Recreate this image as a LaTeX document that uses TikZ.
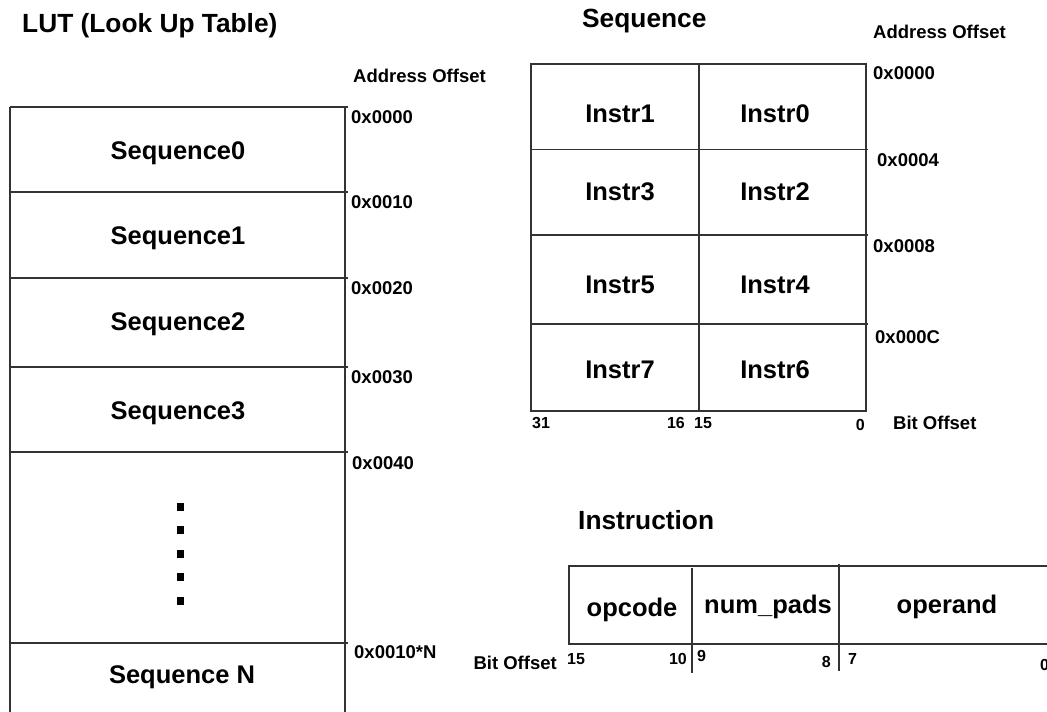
\documentclass[tikz,border=0pt]{standalone}
\usepackage{fontspec}
\setmainfont{Liberation Sans}
\usetikzlibrary{positioning}
\definecolor{edge}{HTML}{333333}
\tikzset{
  grid/.style ={draw=edge, line width=1.3pt},
  cell/.style ={font=\fontsize{25.5}{28}\selectfont\bfseries, inner sep=0pt},
  ttl/.style  ={font=\fontsize{26.3}{30}\selectfont\bfseries, inner sep=0pt, anchor=west},
  addr/.style ={font=\fontsize{18.5}{21}\selectfont\bfseries, inner sep=0pt, anchor=west},
  bit/.style  ={font=\fontsize{16}{18}\selectfont\bfseries, inner sep=0pt},
  dotm/.style ={fill=black, minimum width=7pt, minimum height=8pt, inner sep=0pt},
}

\begin{document}
\begin{tikzpicture}[x=1pt,y=-1pt]
  \useasboundingbox (0,0) rectangle (1047,712);

  % LUT (left)
  \node[ttl] (luttitle) at (22,26) {LUT (Look Up Table)};
  \node[addr] (lutaddr) at (353,76) {Address Offset};
  \draw[grid] (10,107) -- (10,720);
  \draw[grid] (345,107) -- (345,720);
  \foreach \y in {107,192,278,367,452,643}
    \draw[grid] (10,\y) -- (348,\y);
  \foreach \i/\y/\off in {0/107/0x0000,1/192/0x0010,2/278/0x0020,3/367/0x0030}{
    \node[cell] (seq\i) at (178,\y+46) {Sequence\i};
    \node[addr] (off\i) at (351,\y+10) {\off};
  }
  \node[addr] (off4) at (352,463) {0x0040};
  \foreach \i/\y in {1/507,2/530,3/554,4/577,5/601}
    \node[dotm] (dot\i) at (180,\y) {};
  \node[addr] (offN) at (354,652) {0x0010*N};
  \node[cell] (seqN) at (182,677) {Sequence N};

  % Sequence (top right)
  \node[ttl] (seqtitle) at (582,21) {Sequence};
  \node[addr] (seqaddr) at (873,32) {Address Offset};
  \draw[grid] (531,64) rectangle (866,411);
  \draw[grid] (699,64) -- (699,411);
  \foreach \y in {149.5,235,324}
    \draw[grid] (531,\y) -- (868,\y);
  \foreach \a/\b/\y in {1/0/114,3/2/192,5/4/285,7/6/370}{
    \node[cell] (ins\a) at (620,\y) {Instr\a};
    \node[cell] (ins\b) at (775,\y) {Instr\b};
  }
  \node[addr] (soff0) at (873,73) {0x0000};
  \node[addr] (soff1) at (877,160) {0x0004};
  \node[addr] (soff2) at (873,246) {0x0008};
  \node[addr] (soff3) at (875,337) {0x000C};
  \node[bit,anchor=west] (b31) at (532,423) {31};
  \node[bit,anchor=east] (b16) at (685,423) {16};
  \node[bit,anchor=west] (b15) at (694,423) {15};
  \node[bit,anchor=east] (b0) at (865,425) {0};
  \node[addr] (seqbit) at (893,423) {Bit Offset};

  % Instruction (bottom right)
  \node[ttl] (institle) at (578,520) {Instruction};
  \draw[grid] (1060,566) -- (569,566) -- (569,644) -- (1060,644);
  \draw[grid] (692,568) -- (692,673);
  \draw[grid] (839,564) -- (839,671);
  \node[cell] (opcode) at (632,610) {opcode};
  \node[cell] (numpads) at (768,607) {num\_pads};
  \node[cell] (operand) at (947,607) {operand};
  \node[addr,anchor=east] (insbit) at (557,663) {Bit Offset};
  \node[bit,anchor=west] (i15) at (567,659) {15};
  \node[bit,anchor=east] (i10) at (687,659) {10};
  \node[bit,anchor=west] (i9) at (697,656) {9};
  \node[bit,anchor=east] (i8) at (831,662) {8};
  \node[bit,anchor=west] (i7) at (848,659) {7};
  \node[bit,anchor=west] (i0) at (1040,665) {0};
\end{tikzpicture}
\end{document}
